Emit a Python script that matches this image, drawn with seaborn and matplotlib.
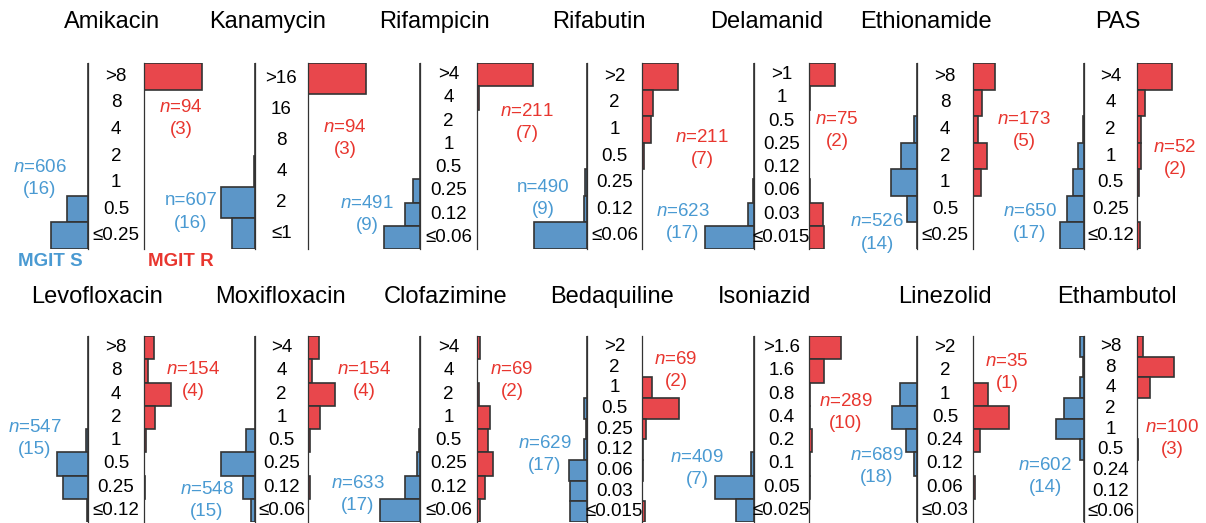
import matplotlib
matplotlib.use("Agg")
import matplotlib.pyplot as plt
import matplotlib.transforms as mtransforms
import seaborn as sns
import pandas as pd

# MIC categories (top -> bottom) and fraction of isolates, S = MGIT susceptible, R = MGIT resistant
amikacin_mic = [">8", "8", "4", "2", "1", "0.5", "≤0.25"]
amikacin_s = [0, 0, 0, 0, 0, 0.36, 0.64]
amikacin_r = [1.0, 0, 0, 0, 0, 0, 0]

kanamycin_mic = [">16", "16", "8", "4", "2", "≤1"]
kanamycin_s = [0, 0, 0, 0.02, 0.59, 0.39]
kanamycin_r = [1.0, 0, 0, 0, 0, 0]

rifampicin_mic = [">4", "4", "2", "1", "0.5", "0.25", "0.12", "≤0.06"]
rifampicin_s = [0, 0, 0, 0, 0, 0.12, 0.26, 0.62]
rifampicin_r = [0.96, 0.03, 0, 0.005, 0.005, 0, 0, 0]

rifabutin_mic = [">2", "2", "1", "0.5", "0.25", "0.12", "≤0.06"]
rifabutin_s = [0, 0, 0, 0, 0.035, 0.05, 0.915]
rifabutin_r = [0.62, 0.19, 0.15, 0.035, 0, 0, 0]

delamanid_mic = [">1", "1", "0.5", "0.25", "0.12", "0.06", "0.03", "≤0.015"]
delamanid_s = [0, 0, 0, 0, 0, 0.02, 0.1, 0.85]
delamanid_r = [0.45, 0.02, 0, 0, 0, 0.02, 0.24, 0.26]

ethionamide_mic = [">8", "8", "4", "2", "1", "0.5", "≤0.25"]
ethionamide_s = [0, 0, 0.06, 0.28, 0.45, 0.17, 0]
ethionamide_r = [0.38, 0.155, 0.09, 0.24, 0.13, 0, 0]

pas_mic = [">4", "4", "2", "1", "0.5", "0.25", "≤0.12"]
pas_s = [0, 0, 0.02, 0.1, 0.19, 0.29, 0.41]
pas_r = [0.6, 0.14, 0.07, 0.07, 0.035, 0, 0.05]

levofloxacin_mic = [">8", "8", "4", "2", "1", "0.5", "0.25", "≤0.12"]
levofloxacin_s = [0, 0, 0, 0, 0.035, 0.53, 0.43, 0.02]
levofloxacin_r = [0.17, 0.07, 0.47, 0.19, 0.035, 0, 0.025, 0]

moxifloxacin_mic = [">4", "4", "2", "1", "0.5", "0.25", "0.12", "≤0.06"]
moxifloxacin_s = [0, 0, 0, 0, 0.15, 0.58, 0.2, 0.07]
moxifloxacin_r = [0.19, 0.07, 0.47, 0.21, 0.035, 0, 0.035, 0]

clofazimine_mic = [">4", "4", "2", "1", "0.5", "0.25", "0.12", "≤0.06"]
clofazimine_s = [0, 0, 0, 0, 0.02, 0.05, 0.26, 0.69]
clofazimine_r = [0.05, 0, 0.035, 0.22, 0.19, 0.28, 0.14, 0.05]

bedaquiline_mic = [">2", "2", "1", "0.5", "0.25", "0.12", "0.06", "0.03", "≤0.015"]
bedaquiline_s = [0, 0, 0, 0.05, 0.02, 0.05, 0.31, 0.29, 0.29]
bedaquiline_r = [0, 0, 0.17, 0.64, 0.07, 0.02, 0.02, 0, 0.05]

isoniazid_mic = [">1.6", "1.6", "0.8", "0.4", "0.2", "0.1", "0.05", "≤0.025"]
isoniazid_s = [0, 0, 0, 0, 0, 0.05, 0.67, 0.31]
isoniazid_r = [0.55, 0.26, 0.02, 0.02, 0.05, 0.02, 0.02, 0]

linezolid_mic = [">2", "2", "1", "0.5", "0.24", "0.12", "0.06", "≤0.03"]
linezolid_s = [0, 0, 0.29, 0.43, 0.19, 0.05, 0, 0]
linezolid_r = [0, 0, 0.26, 0.62, 0.12, 0, 0.035, 0]

ethambutol_mic = [">8", "8", "4", "2", "1", "0.5", "0.24", "0.12", "≤0.06"]
ethambutol_s = [0.07, 0.02, 0.07, 0.34, 0.48, 0.07, 0, 0, 0]
ethambutol_r = [0.1, 0.64, 0.22, 0, 0, 0.02, 0, 0, 0]

drugs = ["Amikacin", "Kanamycin", "Rifampicin", "Rifabutin", "Delamanid", "Ethionamide", "PAS",
         "Levofloxacin", "Moxifloxacin", "Clofazimine", "Bedaquiline", "Isoniazid", "Linezolid", "Ethambutol"]
mics = [amikacin_mic, kanamycin_mic, rifampicin_mic, rifabutin_mic, delamanid_mic, ethionamide_mic, pas_mic,
        levofloxacin_mic, moxifloxacin_mic, clofazimine_mic, bedaquiline_mic, isoniazid_mic, linezolid_mic, ethambutol_mic]
s_vals = [amikacin_s, kanamycin_s, rifampicin_s, rifabutin_s, delamanid_s, ethionamide_s, pas_s,
          levofloxacin_s, moxifloxacin_s, clofazimine_s, bedaquiline_s, isoniazid_s, linezolid_s, ethambutol_s]
r_vals = [amikacin_r, kanamycin_r, rifampicin_r, rifabutin_r, delamanid_r, ethionamide_r, pas_r,
          levofloxacin_r, moxifloxacin_r, clofazimine_r, bedaquiline_r, isoniazid_r, linezolid_r, ethambutol_r]

# isolate counts (n) and number of strains in brackets
n_s = [606, 607, 491, 490, 623, 526, 650, 547, 548, 633, 629, 409, 689, 602]
k_s = [16, 16, 9, 9, 17, 14, 17, 15, 15, 17, 17, 7, 18, 14]
n_r = [94, 94, 211, 211, 75, 173, 52, 154, 154, 69, 69, 289, 35, 100]
k_r = [3, 3, 7, 7, 2, 5, 2, 4, 4, 2, 2, 10, 1, 3]

# ---- layout (pixels) ----
W, H = 1206, 523
blue_x = [88, 255, 420, 587, 754, 917, 1084]
red_x = [144, 308, 477, 642, 809, 973, 1137]
row_top = [63, 336]
row_bot = [249, 522]
title_y = [22, 297]
title_x = [112, 268, 434, 599, 767, 926, 1118, 97, 280, 446, 612, 765, 945, 1117]
s_lab = [(40, 168), (191, 201), (367, 203), (543, 188), (683, 211), (877, 222), (1030, 212),
         (35, 427), (207, 489), (358, 483), (545, 443), (697, 457), (877, 455), (1045, 466)]
r_lab = [(181, 108), (345, 127), (527, 111), (702, 138), (837, 120), (1024, 120), (1175, 148),
         (193, 369), (364, 369), (512, 369), (676, 359), (846, 401), (1007, 362), (1172, 427)]
s_italic = [True, False, True, False, True, True, True, True, True, True, True, True, True, True]
LINE = 22

PX_PER_UNIT = 58
SIDE = 62

BLUE = "#5C96C8"
RED = "#E8474C"
BLUE_TXT = "#4A9AD2"
RED_TXT = "#E8362F"
EDGE = "#333333"

sns.set_style("white")
plt.rcParams["font.family"] = ["Liberation Sans", "DejaVu Sans"]
plt.rcParams["text.color"] = "black"
plt.rcParams["mathtext.fontset"] = "custom"
plt.rcParams["mathtext.rm"] = "Liberation Sans"
plt.rcParams["mathtext.it"] = "Liberation Sans:italic"

fig = plt.figure(figsize=(W / 100, H / 100), dpi=100)


def fx(px):
    return px / W


def fy(py):
    return 1 - py / H


for i, name in enumerate(drugs):
    row, col = divmod(i, 7)
    top, bot = row_top[row], row_bot[row]
    bx, rx = blue_x[col], red_x[col]
    mic = mics[i]
    df = pd.DataFrame({"mic": mic, "S": s_vals[i], "R": r_vals[i]})

    axL = fig.add_axes([fx(bx - SIDE), fy(bot), SIDE / W, (bot - top) / H])
    axR = fig.add_axes([fx(rx), fy(bot), SIDE / W, (bot - top) / H])
    sns.barplot(data=df, x="S", y="mic", order=mic, orient="h", width=1, color=BLUE,
                saturation=1, edgecolor=EDGE, linewidth=1.2, errorbar=None, ax=axL)
    sns.barplot(data=df, x="R", y="mic", order=mic, orient="h", width=1, color=RED,
                saturation=1, edgecolor=EDGE, linewidth=1.2, errorbar=None, ax=axR)

    axL.set_xlim(SIDE / PX_PER_UNIT, 0)
    axR.set_xlim(0, SIDE / PX_PER_UNIT)
    for ax in (axL, axR):
        ax.set_ylim(len(mic) - 0.5, -0.5)
        ax.set_xticks([])
        ax.set_yticks([])
        ax.set_xlabel("")
        ax.set_ylabel("")
        ax.patch.set_alpha(0)
        for sp in ax.spines.values():
            sp.set_visible(False)
    axL.spines["right"].set_visible(True)
    axR.spines["left"].set_visible(True)
    for sp in (axL.spines["right"], axR.spines["left"]):
        sp.set_color("#333333")
        sp.set_linewidth(0.9)

    # MIC labels in the centre column
    trans = mtransforms.blended_transform_factory(fig.transFigure, axL.transData)
    cx = fx((bx + rx) / 2)
    for j, lab in enumerate(mic):
        axL.text(cx, j, lab, transform=trans, ha="center", va="center",
                 fontsize=13.5, color="black", clip_on=False)

    fig.text(fx(title_x[i]), fy(title_y[row]), name, ha="center", va="center", fontsize=17, color="black")

    n_txt = "$n$" if s_italic[i] else "n"
    sx, sy = s_lab[i]
    fig.text(fx(sx), fy(sy), f"{n_txt}={n_s[i]}", color=BLUE_TXT, ha="center", va="center", fontsize=13.5)
    fig.text(fx(sx), fy(sy + LINE), f"({k_s[i]})", color=BLUE_TXT, ha="center", va="center", fontsize=13.5)
    qx, qy = r_lab[i]
    fig.text(fx(qx), fy(qy), f"$n$={n_r[i]}", color=RED_TXT, ha="center", va="center", fontsize=13.5)
    fig.text(fx(qx), fy(qy + LINE), f"({k_r[i]})", color=RED_TXT, ha="center", va="center", fontsize=13.5)

fig.text(fx(50), fy(262), "MGIT S", color=BLUE_TXT, fontweight="bold", ha="center", va="center", fontsize=13.5)
fig.text(fx(181), fy(262), "MGIT R", color=RED_TXT, fontweight="bold", ha="center", va="center", fontsize=13.5)

fig.savefig("out.png", dpi=100)
